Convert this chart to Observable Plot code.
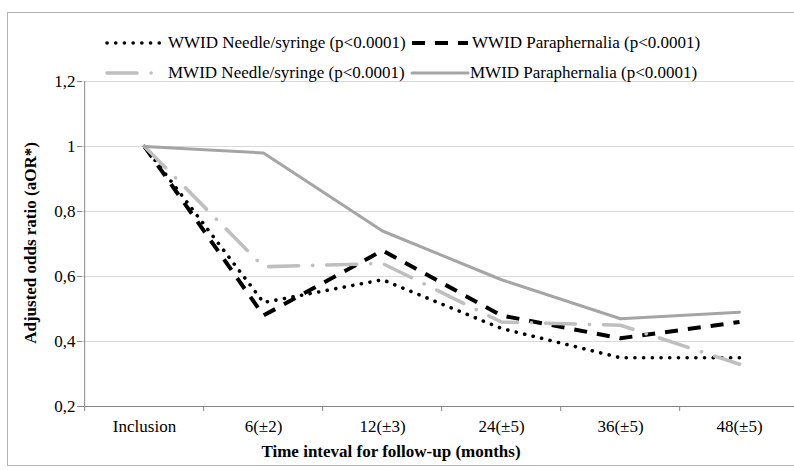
<!DOCTYPE html>
<html>
<head>
<meta charset="utf-8">
<script src="https://cdn.jsdelivr.net/npm/d3@7"></script>
<script src="https://cdn.jsdelivr.net/npm/@observablehq/plot@0.6"></script>
<style>
  html, body { margin: 0; padding: 0; background: #fff; }
  #wrap { position: relative; width: 794px; height: 471px; overflow: hidden; font-family: "Liberation Serif", "Times New Roman", serif; color: #000; }
  #frame { position: absolute; left: 7px; top: 12px; width: 820px; height: 454px; border: 1px solid #b4b4b4; box-sizing: border-box; }
  .lg { position: absolute; font-size: 17px; line-height: 17px; white-space: nowrap; }
  .sw { position: absolute; }
  .ttl { position: absolute; font-size: 17px; font-weight: bold; white-space: nowrap; }
  #chart { position: absolute; left: 0; top: 0; }
</style>
</head>
<body>
<div id="wrap">
  <div id="frame"></div>
  <div id="chart"></div>
  <div id="legend"></div>
  <div class="ttl" id="xt" style="left:391px; top:452px; transform: translate(-50%, -50%);"></div>
  <div class="ttl" id="yt" style="left:31px; top:243px; transform: translate(-50%, -50%) rotate(-90deg);"></div>
</div>
<script>
// ---- data ----
const categories = ["Inclusion", "6(±2)", "12(±3)", "24(±5)", "36(±5)", "48(±5)"];
const wwidNeedle = [1, 0.52, 0.59, 0.44, 0.35, 0.35];
const wwidPara   = [1, 0.48, 0.68, 0.48, 0.41, 0.46];
const mwidNeedle = [1, 0.63, 0.64, 0.46, 0.45, 0.33];
const mwidPara   = [1, 0.98, 0.74, 0.59, 0.47, 0.49];
const seriesNames = [
  "WWID Needle/syringe (p<0.0001)",
  "WWID Paraphernalia (p<0.0001)",
  "MWID Needle/syringe (p<0.0001)",
  "MWID Paraphernalia (p<0.0001)"
];
const yTicks = [0.2, 0.4, 0.6, 0.8, 1, 1.2];
const xTitle = "Time inteval for follow-up (months)";
const yTitle = "Adjusted odds ratio (aOR*)";

// ---- styles ----
const serif = "Liberation Serif";
const styles = [
  {stroke: "#000000", strokeWidth: 3.6, strokeDasharray: "0.1,8.6", strokeLinecap: "round"},
  {stroke: "#000000", strokeWidth: 4, strokeDasharray: "13,10", strokeLinecap: "butt"},
  {stroke: "#bfbfbf", strokeWidth: 3.6, strokeDasharray: "30,14,0.1,14", strokeLinecap: "round"},
  {stroke: "#a5a5a5", strokeWidth: 3, strokeDasharray: null, strokeLinecap: "round"}
];
const allSeries = [wwidNeedle, wwidPara, mwidNeedle, mwidPara];
const tables = allSeries.map(vals => categories.map((c, i) => ({cat: c, v: vals[i]})));

const W = 794, H = 471;
const x0 = 82, x1 = 800, yBottom = 406, yTop = 81;
const step = (x1 - x0) / categories.length;
const fmt = d => String(+d.toFixed(1)).replace(".", ",");

const marks = [
  Plot.ruleY(yTicks.filter(d => d > 0.2), {y: d => d, stroke: "#d9d9d9", strokeWidth: 1}),
  Plot.axisX({ticks: categories, tickSize: 5, tickFormat: () => "", dx: -step / 2, stroke: "#868686", label: null}),
  Plot.axisX({ticks: categories, tickSize: 0, tickPadding: 13, fontSize: 17, fontFamily: serif, fill: "#000", label: null}),
  Plot.axisY({ticks: yTicks, tickSize: 5, tickPadding: 2, tickFormat: fmt, fontSize: 17, fontFamily: serif, stroke: "#868686", fill: "#000", label: null}),
  Plot.ruleY([0.2], {stroke: "#868686", strokeWidth: 1}),
  Plot.ruleX([categories[0]], {dx: -step / 2, y1: 0.2, y2: 1.2, stroke: "#868686", strokeWidth: 1}),
  ...tables.map((t, k) => Plot.line(t, {x: "cat", y: "v", ...Object.fromEntries(Object.entries(styles[k]).filter(([, v]) => v != null)), strokeLinejoin: "round"}))
];

const chart = Plot.plot({
  width: W,
  height: H,
  marginLeft: x0,
  marginRight: W - x1,
  marginTop: yTop,
  marginBottom: H - yBottom,
  style: {background: "transparent", overflow: "hidden"},
  x: {type: "point", domain: categories, range: [x0, x1], padding: 0.5, axis: null},
  y: {domain: [0.2, 1.2], range: [yBottom, yTop], axis: null},
  marks
});
document.getElementById("chart").appendChild(chart);

// ---- legend ----
const legendPos = [
  {sx: 107, tx: 168, y: 43},
  {sx: 412, tx: 472, y: 43},
  {sx: 107, tx: 168, y: 73},
  {sx: 412, tx: 470, y: 73}
];
const lg = document.getElementById("legend");
seriesNames.forEach((name, k) => {
  const p = legendPos[k];
  const s = styles[k];
  const len = 56;
  const svg = d3.create("svg").attr("class", "sw").attr("width", len + 4).attr("height", 10)
    .style("left", (p.sx - 2) + "px").style("top", (p.y - 5) + "px");
  svg.append("line").attr("x1", 2).attr("x2", len + 2).attr("y1", 5).attr("y2", 5)
    .attr("stroke", s.stroke).attr("stroke-width", s.strokeWidth)
    .attr("stroke-dasharray", s.strokeDasharray).attr("stroke-linecap", s.strokeLinecap);
  lg.appendChild(svg.node());
  const t = document.createElement("div");
  t.className = "lg";
  t.textContent = name;
  t.style.left = p.tx + "px";
  t.style.top = (p.y - 9) + "px";
  lg.appendChild(t);
});
document.getElementById("xt").textContent = xTitle;
document.getElementById("yt").textContent = yTitle;
</script>
</body>
</html>
